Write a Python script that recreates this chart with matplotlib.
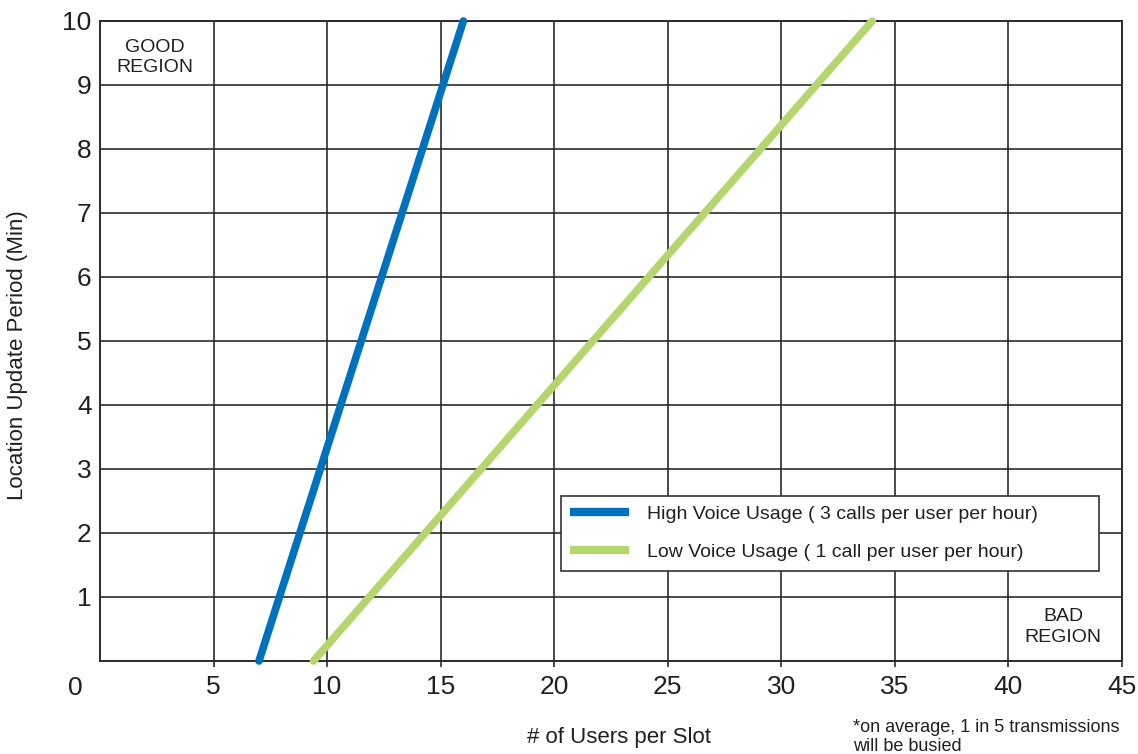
import matplotlib.pyplot as plt

plt.rcParams['font.family'] = ['Liberation Sans', 'DejaVu Sans']

# data
high_x = [7.0, 16.0]
high_y = [0.0, 10.0]
low_x = [9.4, 34.0]
low_y = [0.0, 10.0]
x_ticks = [5, 10, 15, 20, 25, 30, 35, 40, 45]
y_ticks = [1, 2, 3, 4, 5, 6, 7, 8, 9, 10]
high_label = 'High Voice Usage ( 3 calls per user per hour)'
low_label = 'Low Voice Usage ( 1 call per user per hour)'

blue = '#0071BC'
green = '#B3D66E'
grid_col = '#2b2b2b'
text_col = '#231f20'

fig = plt.figure(figsize=(11.38, 7.54), dpi=100)
ax = fig.add_axes([100 / 1138, 1 - 661 / 754, 1022 / 1138, 640 / 754])

ax.plot(high_x, high_y, color=blue, lw=5.5, solid_capstyle='round',
        clip_on=False, zorder=5, label=high_label)
ax.plot(low_x, low_y, color=green, lw=5.5, solid_capstyle='round',
        clip_on=False, zorder=5, label=low_label)

ax.set_xlim(0, 45)
ax.set_ylim(0, 10)
ax.set_xticks(x_ticks)
ax.set_yticks(y_ticks)
ax.tick_params(axis='x', length=4, width=1.2, color=grid_col, labelsize=19,
               labelcolor=text_col, pad=6)
ax.tick_params(axis='y', length=0, labelsize=19, labelcolor=text_col, pad=6)
ax.grid(True, color=grid_col, lw=1.2)
ax.set_axisbelow(True)
for s in ax.spines.values():
    s.set_color(grid_col)
    s.set_linewidth(1.4)

# shared origin label
ax.text(-25 / 22.71, -27 / 64.0, '0', fontsize=19, color=text_col,
        ha='center', va='center')

ax.text(2.4, 9.43, 'GOOD\nREGION', fontsize=14, color=text_col,
        ha='center', va='center', linespacing=1.3)
ax.text(42.4, 0.53, 'BAD\nREGION', fontsize=14, color=text_col,
        ha='center', va='center', linespacing=1.3)

fig.text(18 / 1138, 1 - 355 / 754, 'Location Update Period (Min)', fontsize=16,
         color=text_col, ha='center', va='center', rotation=90)
fig.text(619 / 1138, 1 - 738 / 754, '# of Users per Slot', fontsize=16,
         color=text_col, ha='center', va='center')
fig.text(853 / 1138, 1 - 737 / 754,
         '*on average, 1 in 5 transmissions\nwill be busied', fontsize=13,
         color=text_col, ha='left', va='center', linespacing=1.2)

leg = ax.legend(loc='lower left', bbox_to_anchor=(0.4506, 0.1406, 0.527, 0.12),
                mode='expand', borderaxespad=0, fontsize=14, handlelength=3.0,
                handletextpad=0.95, labelspacing=1.05, borderpad=0.5,
                fancybox=False, framealpha=1, edgecolor='#333333')
leg.get_frame().set_linewidth(1.2)
for t in leg.get_texts():
    t.set_color(text_col)
for h in leg.legend_handles:
    h.set_solid_capstyle('butt')
    h.set_linewidth(6)

fig.savefig('out.png', dpi=100)
